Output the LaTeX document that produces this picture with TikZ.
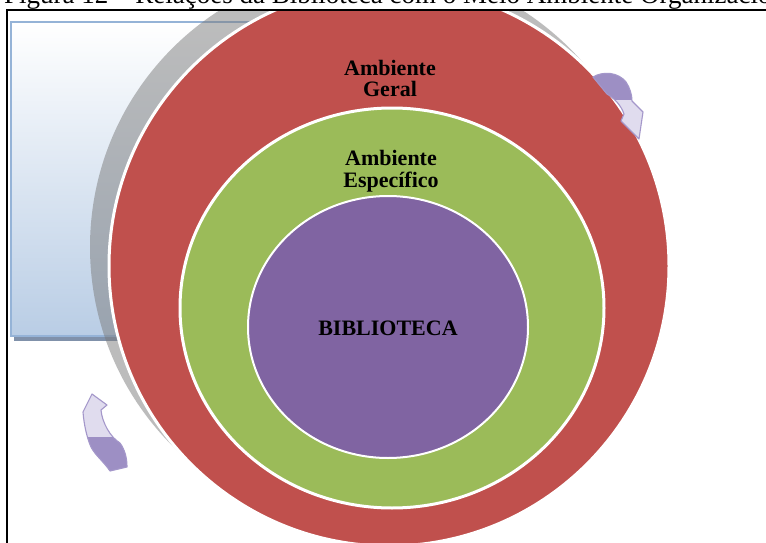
\documentclass[tikz,border=0pt]{standalone}
\usepackage{fontspec}
\setmainfont{Liberation Serif}
\definecolor{rred}{HTML}{C0504D}
\definecolor{rgreen}{HTML}{9BBB59}
\definecolor{rpurple}{HTML}{8064A2}
\definecolor{ringgray}{RGB}{123,123,123}
\definecolor{boxblue}{RGB}{185,205,229}
\definecolor{boxedge}{HTML}{95B3D7}
\definecolor{boxshadow}{RGB}{128,145,170}
\definecolor{arrdark}{HTML}{9D8FC4}
\definecolor{arrlight}{HTML}{E0DCEE}
\definecolor{arredge}{HTML}{A497CA}
\tikzset{
  lbl/.style={anchor=base, inner sep=0pt, font=\bfseries\fontsize{22}{22}\selectfont},
  ringline/.style={draw=white, line width=3pt},
  arrdraw/.style={draw=arredge, line width=1.1pt, line join=round},
}
\begin{document}
\begin{tikzpicture}[x=1pt,y=-1pt]
\clip (0,0) rectangle (766,543);
\fill[white] (0,0) rectangle (766,543);
\begin{scope}
\clip (0,11) rectangle (766,543);
% background box
\fill[boxshadow] (14,26) rectangle (303,341);
\shade[top color=white, bottom color=boxblue] (11,22) rectangle (300,336);
\draw[boxedge, line width=2pt] (11,22) rectangle (300,336);
% gray ring
\fill[ringgray, opacity=0.5] (371,247) circle[radius=281];
% red
\fill[rred] (389,266) circle[radius=280];
\draw[ringline] (389,266) circle[radius=280];
% green
\fill[rgreen] (392,308) ellipse[x radius=212, y radius=200];
\draw[ringline] (392,308) ellipse[x radius=212, y radius=200];
% purple
\fill[rpurple] (388,327) ellipse[x radius=140, y radius=131];
\draw[draw=white, line width=2pt] (388,327) ellipse[x radius=140, y radius=131];
\end{scope}
% title (cut by the top edge)
\node[anchor=base west, inner sep=0pt, font=\fontsize{27}{30}\selectfont] (title) at (4,4) {Figura 12 – Relações da Biblioteca com o Meio Ambiente Organizacional};
% frame
\draw[line width=2.5pt] (766,10) -- (7,10) -- (7,545);
% labels
\node[lbl] (ag1) at (390,75) {Ambiente};
\node[lbl] (ag2) at (390,96) {Geral};
\node[lbl] (ae1) at (391,165) {Ambiente};
\node[lbl] (ae2) at (391,187) {Específico};
\node[lbl] (bib) at (388,335) {BIBLIOTECA};
% top-right arrow
\def\arrowTR{(593,77) .. controls (603,71) and (618,72) .. (626,82) .. controls (630,88) and (632,95) .. (632,101) -- (643,112) -- (639,139) -- (621,121) -- (624,114) .. controls (621,105) and (614,98) .. (607,94) -- cycle}
\fill[arrlight] \arrowTR;
\begin{scope}
\clip (580,60) rectangle (660,99);
\fill[arrdark] \arrowTR;
\end{scope}
\draw[arrdraw] \arrowTR;
% bottom-left arrow
\def\arrowBL{(83,412) -- (92,394) -- (107,405) -- (101,410) .. controls (102,422) and (110,437) .. (120,443) .. controls (125,450) and (127,458) .. (127,467) -- (110,471) .. controls (104,462) and (95,455) .. (91,447) .. controls (87,438) and (84,425) .. (83,412) -- cycle}
\fill[arrlight] \arrowBL;
\begin{scope}
\clip (70,437) rectangle (140,480);
\fill[arrdark] \arrowBL;
\end{scope}
\draw[arrdraw] \arrowBL;
\end{tikzpicture}
\end{document}
